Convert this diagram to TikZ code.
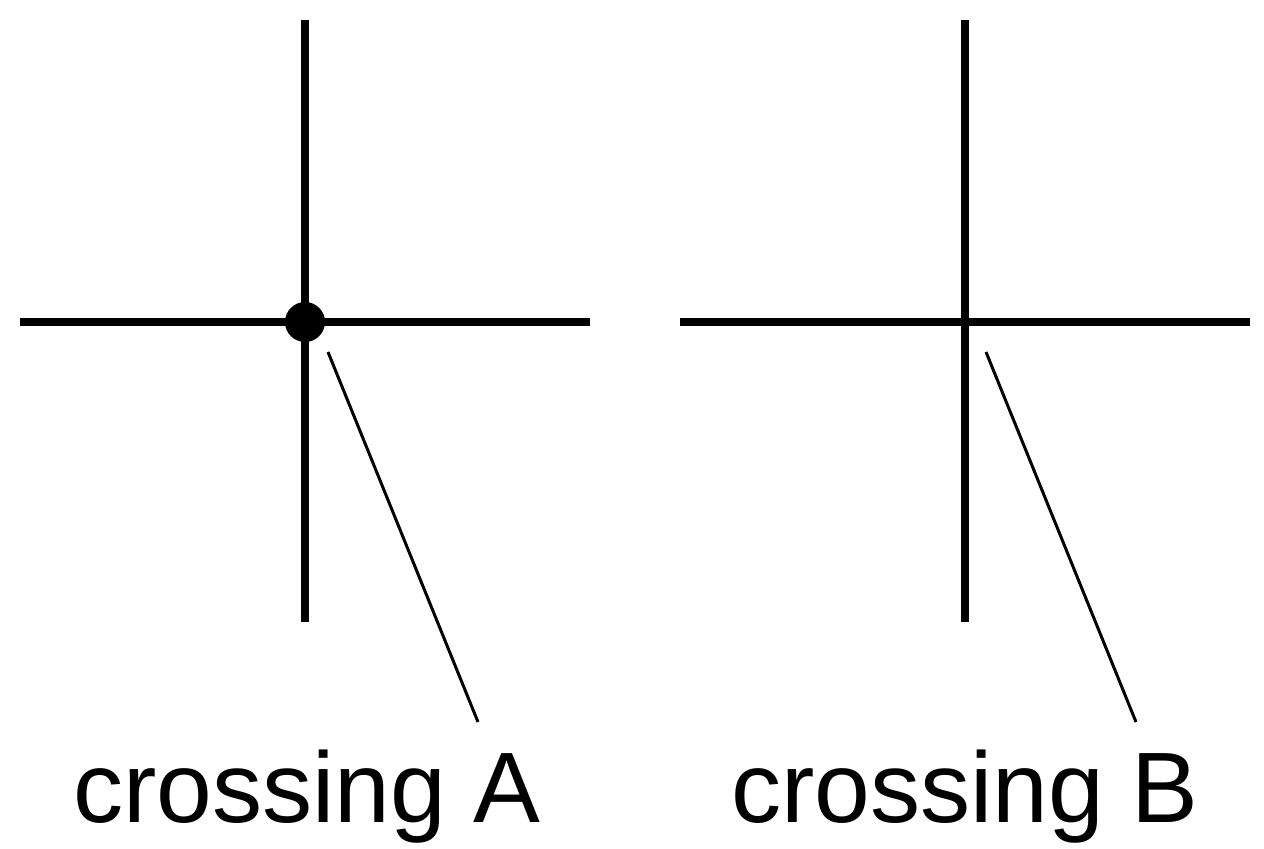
\documentclass[tikz,border=0pt]{standalone}
\usepackage{fontspec}
\setmainfont{Liberation Sans}
\begin{document}
\begin{tikzpicture}[wire/.style={line width=4.5pt}, lead/.style={line width=1.7pt},
  lbl/.style={anchor=base, font=\fontsize{57}{60}\selectfont, inner sep=0pt}]
\useasboundingbox (0,0) rectangle (25.28,16.96);
% crossing A
\coordinate (at) at (6.1,16.56);
\coordinate (ab) at (6.1,4.52);
\coordinate (al) at (0.4,10.52);
\coordinate (ar) at (11.8,10.52);
\draw[wire] (at) -- (ab);
\draw[wire] (al) -- (ar);
\node[circle, fill=black, minimum size=0.8cm, inner sep=0pt] (dotA) at (6.1,10.52) {};
\coordinate (a1) at (6.56,9.92);
\node[lbl] (labA) at (6.14,0.52) {crossing A};
\coordinate (a2) at (9.56,2.52);
\draw[lead] (a1) -- (a2);
% crossing B
\coordinate (bt) at (19.3,16.56);
\coordinate (bb) at (19.3,4.52);
\coordinate (bl) at (13.6,10.52);
\coordinate (br) at (25.0,10.52);
\draw[wire] (bt) -- (bb);
\draw[wire] (bl) -- (br);
\coordinate (b1) at (19.72,9.92);
\node[lbl] (labB) at (19.3,0.52) {crossing B};
\coordinate (b2) at (22.72,2.52);
\draw[lead] (b1) -- (b2);
\end{tikzpicture}
\end{document}
